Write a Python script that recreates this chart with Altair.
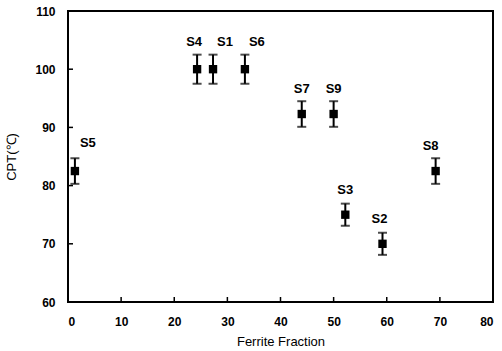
import altair as alt
import pandas as pd

names = ["S5", "S4", "S1", "S6", "S7", "S9", "S3", "S2", "S8"]
ferrite = [1.3, 24.3, 27.3, 33.3, 44.0, 50.0, 52.2, 59.2, 69.2]
cpt = [82.5, 100.0, 100.0, 100.0, 92.3, 92.3, 75.0, 70.0, 82.5]
err = [2.2, 2.5, 2.5, 2.5, 2.2, 2.2, 1.9, 1.9, 2.2]
x_ticks = [0, 10, 20, 30, 40, 50, 60, 70, 80]
y_ticks = [60, 70, 80, 90, 100, 110]

df = pd.DataFrame({"name": names, "x": ferrite, "y": cpt, "e": err})
df["lo"] = df["y"] - df["e"]
df["hi"] = df["y"] + df["e"]

FONT = "Liberation Sans"
W, H = 425, 291

xs = alt.Scale(domain=[0, 80], nice=False, zero=False)
ys = alt.Scale(domain=[60, 110], nice=False, zero=False)

base = alt.Chart(df)

xaxis = alt.Axis(values=x_ticks, ticks=False, domain=False, grid=False,
                 labelFont=FONT, labelFontSize=12, labelFontWeight="bold",
                 labelColor="black", labelPadding=14, title="Ferrite Fraction",
                 titleFont=FONT, titleFontSize=13, titleFontWeight="normal",
                 titleColor="black", titlePadding=8)
yaxis = alt.Axis(values=y_ticks, ticks=False, domain=False, grid=False,
                 labelFont=FONT, labelFontSize=12, labelFontWeight="bold",
                 labelColor="black", labelPadding=13, title="CPT(℃)",
                 titleFont=FONT, titleFontSize=13, titleFontWeight="normal",
                 titleColor="black", titlePadding=16)

rules = base.mark_rule(color="black", strokeWidth=2).encode(
    x=alt.X("x:Q", scale=xs, axis=xaxis),
    y=alt.Y("lo:Q", scale=ys, axis=yaxis),
    y2="hi:Q",
)
caps_lo = base.mark_tick(color="black", thickness=2, size=9, orient="horizontal").encode(
    x=alt.X("x:Q", scale=xs), y=alt.Y("lo:Q", scale=ys))
caps_hi = base.mark_tick(color="black", thickness=2, size=9, orient="horizontal").encode(
    x=alt.X("x:Q", scale=xs), y=alt.Y("hi:Q", scale=ys))
points = base.mark_point(shape="square", filled=True, color="black", size=70, opacity=1).encode(
    x=alt.X("x:Q", scale=xs), y=alt.Y("y:Q", scale=ys))


def label_layer(subset, dx, dy):
    return alt.Chart(df[df["name"].isin(subset)]).mark_text(
        font=FONT, fontSize=13, fontWeight="bold", color="black", dx=dx, dy=dy).encode(
        x=alt.X("x:Q", scale=xs), y=alt.Y("y:Q", scale=ys), text="name:N")


labels = [
    label_layer(["S5"], 13, -28),
    label_layer(["S4"], -3, -27),
    label_layer(["S1", "S6"], 12, -27),
    label_layer(["S7", "S9", "S3"], 0, -25),
    label_layer(["S2"], -3, -25),
    label_layer(["S8"], -5, -25),
]

xt = pd.DataFrame({"t": x_ticks[1:-1]})
yt = pd.DataFrame({"t": y_ticks[1:-1]})
xtick_marks = alt.Chart(xt).mark_rule(color="black", strokeWidth=1.5).encode(
    x=alt.X("t:Q", scale=xs), y=alt.value(H), y2=alt.value(H - 5))
ytick_marks = alt.Chart(yt).mark_rule(color="black", strokeWidth=1.5).encode(
    y=alt.Y("t:Q", scale=ys), x=alt.value(0), x2=alt.value(5))

chart = alt.layer(rules, caps_lo, caps_hi, points, *labels,
                  xtick_marks, ytick_marks).properties(
    width=W, height=H,
    autosize=alt.AutoSizeParams(type="none"),
    padding={"left": 68, "top": 11, "right": 9, "bottom": 49},
    background="white",
).configure_view(stroke="black", strokeWidth=2)

chart.save("out.html", embed_options={"renderer": "svg", "actions": False})
